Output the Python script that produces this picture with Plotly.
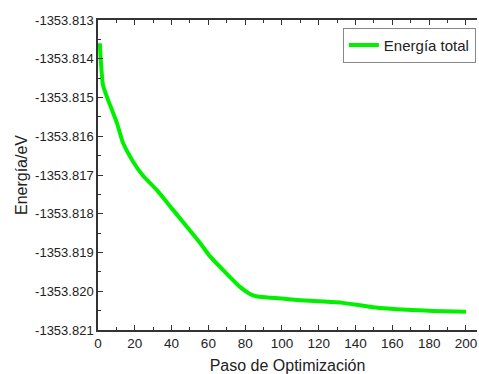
import plotly.graph_objects as go

paso = [1, 1.5, 2.7, 4.9, 10.3, 13.6, 19, 24.5, 32, 40.8, 48.4, 55.4, 60.9, 70, 77, 82.6, 86, 91.8, 100, 110, 120, 133, 149.5, 168, 182, 200]
energia = [-1353.8136, -1353.81403, -1353.81468, -1353.81499, -1353.81566, -1353.81617, -1353.81665, -1353.81702,
           -1353.81739, -1353.8179, -1353.81834, -1353.81875, -1353.8191, -1353.81955, -1353.81988, -1353.82007,
           -1353.82013, -1353.82016, -1353.82019, -1353.82023, -1353.82026, -1353.8203, -1353.82041, -1353.82048,
           -1353.82051, -1353.82053]

x_ticks = [0, 20, 40, 60, 80, 100, 120, 140, 160, 180, 200]
y_ticks = [-1353.813, -1353.814, -1353.815, -1353.816, -1353.817, -1353.818, -1353.819, -1353.820, -1353.821]
y_tick_labels = ["%.3f" % v for v in y_ticks]

fig = go.Figure()
fig.add_trace(go.Scatter(x=paso, y=energia, mode="lines", name="Energía total",
                         line=dict(color="#00F000", width=4, shape="spline", smoothing=0.5)))

font = dict(family="Liberation Sans, Arial, sans-serif", color="#222222")
fig.update_layout(
    width=479, height=374,
    margin=dict(l=98, r=2, t=20, b=44, autoexpand=False),
    paper_bgcolor="white", plot_bgcolor="white",
    font=dict(size=13, **font),
    showlegend=True,
    legend=dict(x=0.997, y=0.975, xanchor="right", yanchor="top",
                bordercolor="#888888", borderwidth=1, bgcolor="white",
                font=dict(size=15, **font), itemwidth=30, tracegroupgap=0),
    xaxis=dict(range=[0, 206], tickvals=x_ticks, ticks="inside", ticklen=5, tickwidth=1,
               tickcolor="#333333", showline=True, linecolor="#333333", linewidth=1.5,
               mirror="ticks", showgrid=False, zeroline=False, automargin=False,
               minor=dict(ticks="inside", ticklen=3, dtick=10, tickcolor="#333333", showgrid=False),
               title=dict(text="Paso de Optimización", font=dict(size=16, **font), standoff=10),
               tickfont=dict(size=13.5, **font)),
    yaxis=dict(range=[-1353.821, -1353.813], tickvals=y_ticks, ticktext=y_tick_labels,
               ticks="inside", ticklen=5, tickwidth=1, tickcolor="#333333",
               showline=True, linecolor="#333333", linewidth=1.5, mirror=False,
               showgrid=False, zeroline=False, automargin=False,
               minor=dict(ticks="inside", ticklen=3, dtick=0.0005, tickcolor="#333333", showgrid=False),
               title=dict(text="Energía/eV", font=dict(size=16, **font), standoff=3),
               tickfont=dict(size=13, **font)),
)

fig.write_html("out.html", config={"displayModeBar": False},
               post_script="document.body.style.margin='0';document.body.style.overflow='hidden';")
